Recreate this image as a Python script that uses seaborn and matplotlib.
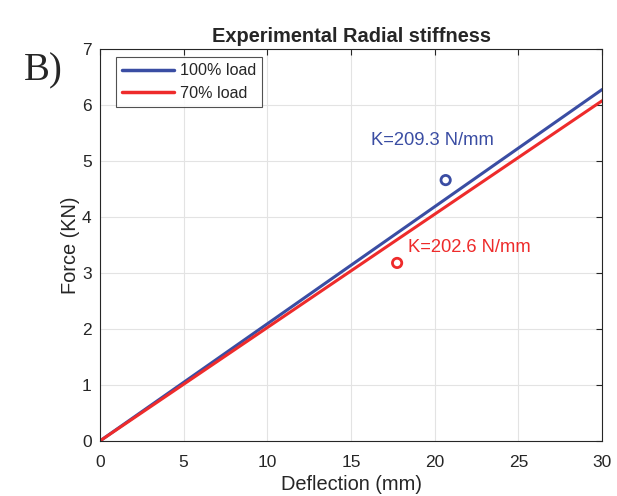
import numpy as np
import pandas as pd
import matplotlib
matplotlib.use("Agg")
import matplotlib.pyplot as plt
import seaborn as sns

# Data
series = ["100% load", "70% load"]
deflection = [0, 30]
force_100 = [0, 6.279]
force_70 = [0, 6.078]
marker_x = [20.65, 17.75]
marker_y = [4.66, 3.18]
labels = ["K=209.3 N/mm", "K=202.6 N/mm"]
label_x = [16.2, 18.4]
label_y = [5.36, 3.46]
xticks = [0, 5, 10, 15, 20, 25, 30]
yticks = [0, 1, 2, 3, 4, 5, 6, 7]

colors = ["#3A4DA3", "#EE2B2B"]

sns.set_style("white")
plt.rcParams['font.family'] = ['Liberation Sans', 'DejaVu Sans']

df = pd.DataFrame({
    "Deflection": deflection * 2,
    "Force": force_100 + force_70,
    "Series": [series[0]] * 2 + [series[1]] * 2,
})
dm = pd.DataFrame({"x": marker_x, "y": marker_y, "Series": series})

fig = plt.figure(figsize=(6.17, 4.96), dpi=100)
ax = fig.add_axes([0.162, 0.111, 0.814, 0.79])

sns.lineplot(data=df, x="Deflection", y="Force", hue="Series", palette=colors,
             linewidth=2.2, ax=ax)
sns.scatterplot(data=dm, x="x", y="y", hue="Series", palette=colors, ax=ax,
                marker="o", s=45, linewidth=2.0, legend=False)
# make hollow
for coll in ax.collections:
    fc = coll.get_facecolors()
    coll.set_edgecolors(fc)
    coll.set_facecolors("none")

for t, x, y, c in zip(labels, label_x, label_y, colors):
    ax.text(x, y, t, color=c, fontsize=13.2, va="center", ha="left")

ax.set_xlim(0, 30)
ax.set_ylim(0, 7)
ax.set_xticks(xticks)
ax.set_yticks(yticks)
ax.grid(True, color="#E3E3E3", linewidth=0.8)
ax.tick_params(direction="in", top=True, right=True, labelsize=12.5,
               colors="#262626", length=4, width=0.8)
ax.tick_params(axis="x", pad=10)
ax.tick_params(axis="y", pad=6)
for s in ax.spines.values():
    s.set_color("#262626")
    s.set_linewidth(0.8)
ax.set_xlabel("Deflection (mm)", fontsize=14.4, color="#262626", labelpad=4)
ax.set_ylabel("Force (KN)", fontsize=14.4, color="#262626", labelpad=1)
ax.set_title("Experimental Radial stiffness", fontsize=14.4, fontweight="bold", pad=5)

leg = ax.legend(loc="upper left", bbox_to_anchor=(0.032, 0.98), borderaxespad=0,
                fontsize=11.6, frameon=True, fancybox=False,
                edgecolor="#262626", handlelength=3.2,
                borderpad=0.4, labelspacing=0.45, handletextpad=0.35)
leg.get_frame().set_linewidth(0.8)
for line in leg.get_lines():
    line.set_linewidth(2.5)

fig.text(0.07, 0.857, "B)", fontsize=28, family="Liberation Serif", ha="center", va="center")

fig.savefig("out.png", dpi=100)
